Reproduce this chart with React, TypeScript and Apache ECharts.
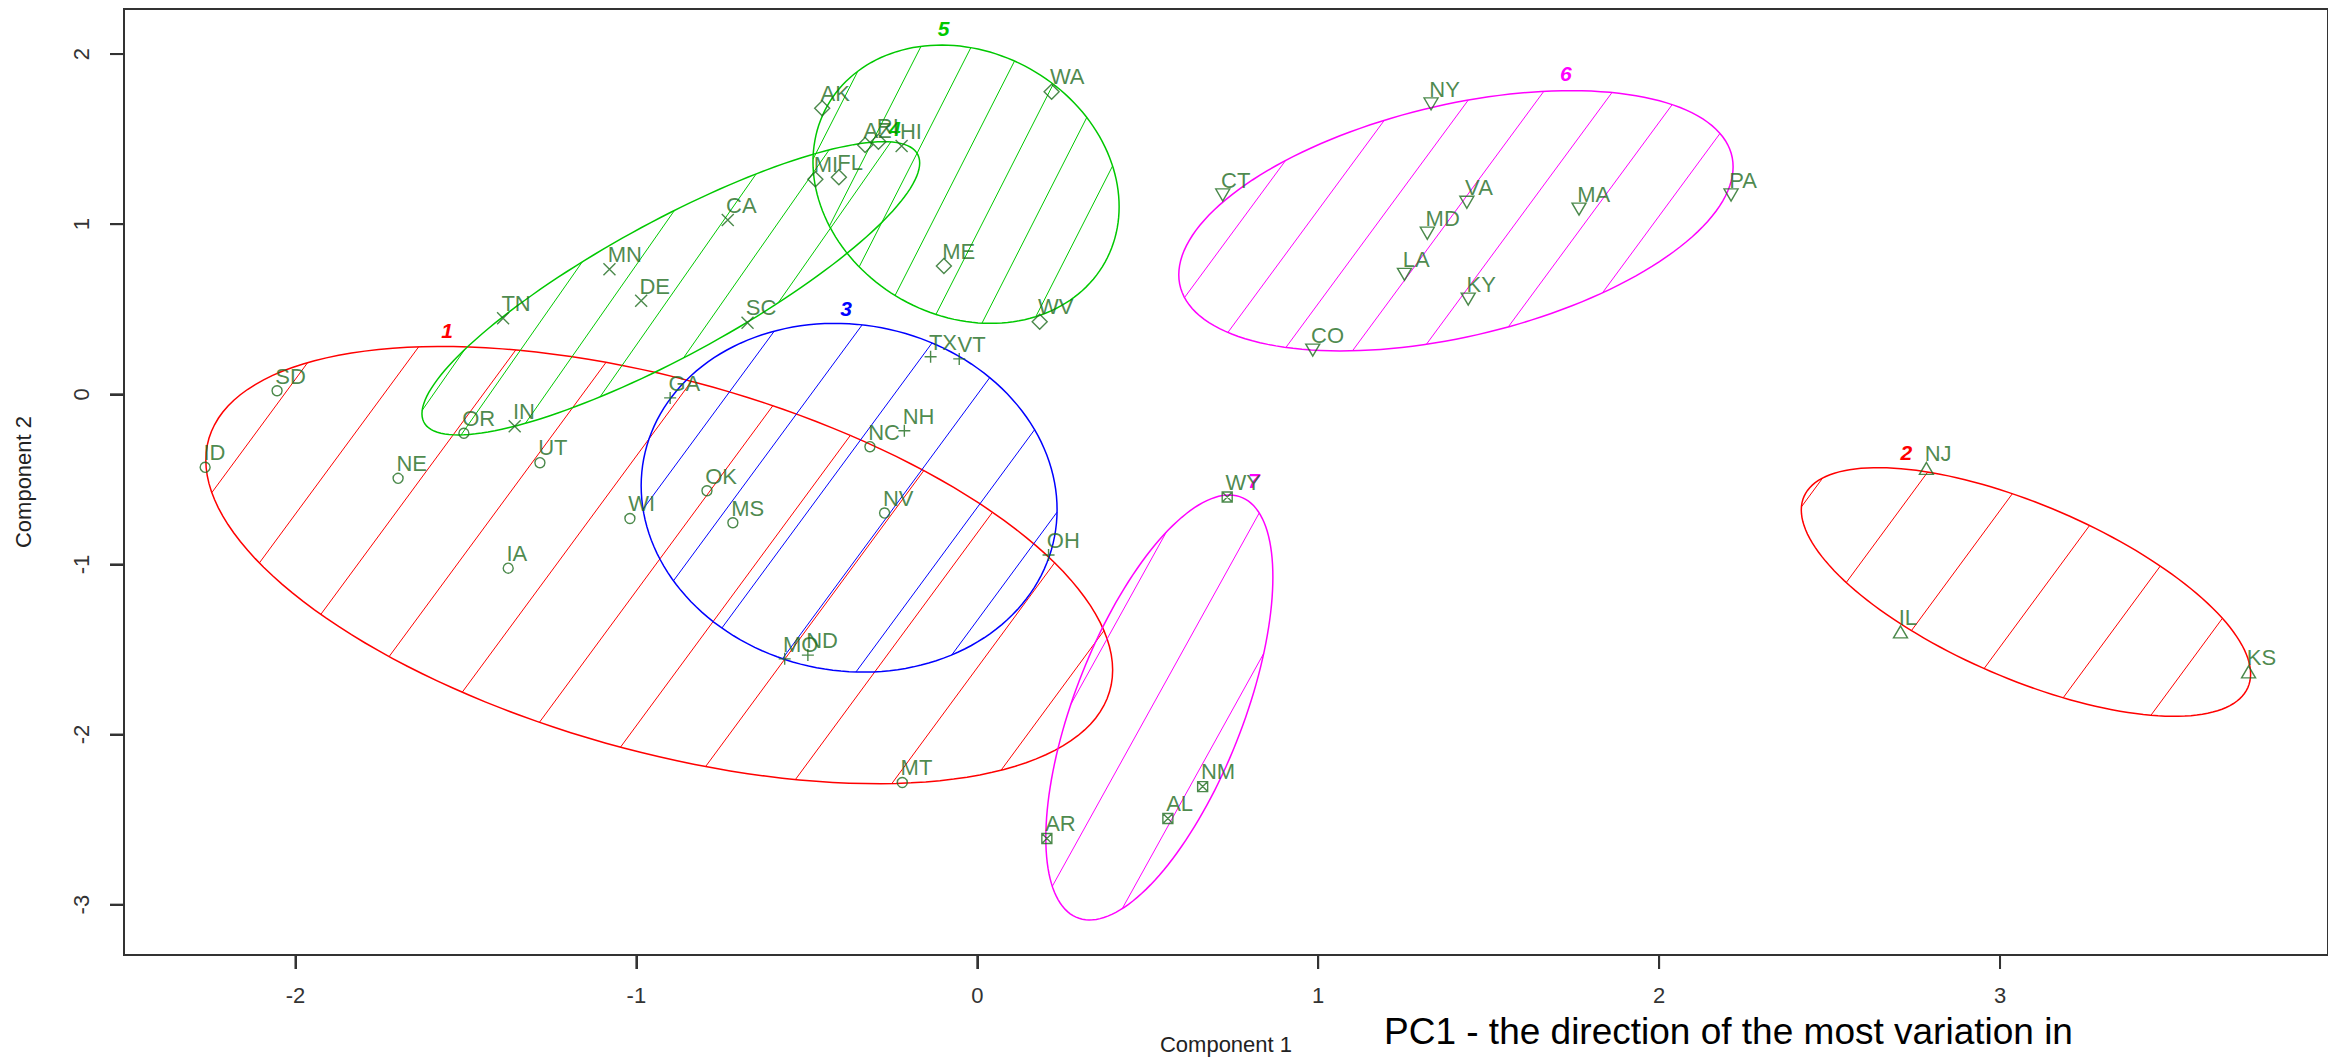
import React, { useEffect, useRef } from 'react';
import * as echarts from 'echarts';

// ---------- axis ticks ----------
const xTicks = [-2, -1, 0, 1, 2, 3];
const yTicks = [-3, -2, -1, 0, 1, 2];
const xRange = [-2.503, 3.962];
const yRange = [-3.296, 2.265];

// ---------- points (Component 1, Component 2) per cluster ----------
const c1States = ['SD', 'ID', 'OR', 'NE', 'UT', 'WI', 'OK', 'MS', 'IA', 'NC', 'NV', 'MT'];
const c1X = [-2.054, -2.265, -1.506, -1.699, -1.283, -1.019, -0.793, -0.717, -1.376, -0.315, -0.272, -0.22];
const c1Y = [0.021, -0.429, -0.229, -0.494, -0.402, -0.73, -0.567, -0.755, -1.022, -0.308, -0.698, -2.282];

const c2States = ['NJ', 'IL', 'KS'];
const c2X = [2.784, 2.708, 3.729];
const c2Y = [-0.436, -1.397, -1.632];

const c3States = ['GA', 'TX', 'VT', 'NH', 'MO', 'OH', 'ND'];
const c3X = [-0.901, -0.137, -0.053, -0.214, -0.565, 0.209, -0.497];
const c3Y = [-0.021, 0.221, 0.208, -0.214, -1.555, -0.945, -1.533];

const c4States = ['TN', 'MN', 'DE', 'CA', 'SC', 'IN', 'HI'];
const c4X = [-1.391, -1.079, -0.986, -0.732, -0.674, -1.357, -0.222];
const c4Y = [0.447, 0.735, 0.55, 1.025, 0.421, -0.188, 1.46];

const c5States = ['AK', 'WA', 'AZ', 'RI', 'MI', 'FL', 'ME', 'WV'];
const c5X = [-0.455, 0.218, -0.329, -0.29, -0.475, -0.406, -0.098, 0.183];
const c5Y = [1.681, 1.779, 1.465, 1.485, 1.264, 1.276, 0.754, 0.427];

const c6States = ['NY', 'CT', 'VA', 'MA', 'PA', 'MD', 'LA', 'KY', 'CO'];
const c6X = [1.331, 0.72, 1.436, 1.765, 2.211, 1.32, 1.253, 1.44, 0.984];
const c6Y = [1.707, 1.172, 1.129, 1.089, 1.172, 0.947, 0.705, 0.56, 0.26];

const c7States = ['WY', 'NM', 'AL', 'AR'];
const c7X = [0.733, 0.661, 0.559, 0.204];
const c7Y = [-0.604, -2.306, -2.494, -2.611];

// ---------- cluster ellipses (data units) ----------
// centre, half extent in x, half extent in y, y-offset of the right-most point
const ellipseCx = [-0.933, 3.076, -0.376, -0.899, -0.033, 1.404, 0.534];
const ellipseCy = [-1.004, -1.162, -0.608, 0.623, 1.235, 1.02, -1.841];
const ellipseHalfW = [1.33, 0.659, 0.61, 0.73, 0.449, 0.813, 0.333];
const ellipseHalfH = [1.285, 0.731, 1.025, 0.862, 0.818, 0.765, 1.249];
const ellipseRightDy = [-0.617, -0.482, -0.07, 0.737, -0.132, 0.317, 0.767];

// cluster number labels (data units)
const clusterLabelX = [-1.555, 2.725, -0.385, -0.242, -0.099, 1.726, 0.811];
const clusterLabelY = [0.378, -0.343, 0.507, 1.564, 2.152, 1.883, -0.504];

// hatch line anchors (data units)
const hatchAnchorX = [-1.717, 2.728, -0.354, -1.109, -0.229, 0.744, 0.212];
const hatchAnchorY = [-1.519, -1.422, -1.627, -0.022, 0.629, 0.388, -2.921];

// ---------- styles ----------
const clusterColors = ['#ff0000', '#ff0000', '#0000ff', '#00c800', '#00c800', '#ff00ff', '#ff00ff'];
const hatchAngleDeg = [53.6, 53.6, 53.6, 55, 63, 53.6, 61];
const hatchSpacingPx = [80, 81, 67, 46, 45, 55.6, 72];
const pointColor = '#1e6b1e';
const axisColor = '#333333';
const TICK_LEN = 14;
const FONT = '"Liberation Sans", Arial, Helvetica, sans-serif';

const symPlus = 'path://M0,6 L12,6 M6,0 L6,12';
const symCross = 'path://M0,0 L12,12 M12,0 L0,12';
const symBoxX = 'path://M0,0 L10,0 L10,10 L0,10 Z M0,0 L10,10 M10,0 L0,10';
const symInvTri = 'path://M0,0 L14,0 L7,12 Z';
const symTri = 'path://M7,0 L14,12 L0,12 Z';
const symDiamond = 'path://M7.5,0 L15,7.5 L7.5,15 L0,7.5 Z';

export default function App() {
  const ref = useRef<HTMLDivElement>(null);

  useEffect(() => {
    if (!ref.current) return;
    const chart = echarts.init(ref.current, undefined, { renderer: 'svg' });

    const pointSeries = (
      name: string,
      states: string[],
      xs: number[],
      ys: number[],
      symbol: string,
      size: number[]
    ) => ({
      name,
      type: 'scatter',
      symbol,
      symbolSize: size,
      z: 5,
      itemStyle: { color: 'rgba(0,0,0,0)', borderColor: pointColor, borderWidth: 1.4 },
      label: {
        show: true,
        formatter: (p: any) => p.data[2],
        position: [size[0] / 2 - 1, size[1] / 2 - 3],
        align: 'left',
        verticalAlign: 'bottom',
        color: pointColor,
        fontFamily: FONT,
        fontSize: 22,
      },
      emphasis: { disabled: true },
      data: states.map((s, i) => [xs[i], ys[i], s]),
    });

    const ellipseSeries = {
      type: 'custom',
      z: 2,
      clip: true,
      data: ellipseCx.map((_, i) => [i]),
      renderItem: (_params: any, api: any) => {
        const k = api.value(0) as number;
        const cx = ellipseCx[k];
        const cy = ellipseCy[k];
        const W = ellipseHalfW[k];
        const H = ellipseHalfH[k];
        const r = ellipseRightDy[k];
        const s = Math.sqrt(Math.max(H * H - r * r, 0));
        const N = 160;
        const pts: number[][] = [];
        for (let j = 0; j < N; j++) {
          const t = (2 * Math.PI * j) / N;
          pts.push(api.coord([cx + W * Math.cos(t), cy + r * Math.cos(t) + s * Math.sin(t)]));
        }
        const color = clusterColors[k];
        const a = (hatchAngleDeg[k] * Math.PI) / 180;
        const nx = Math.sin(a);
        const ny = Math.cos(a);
        const anc = api.coord([hatchAnchorX[k], hatchAnchorY[k]]);
        const c0 = nx * anc[0] + ny * anc[1];
        let minC = Infinity;
        let maxC = -Infinity;
        for (const p of pts) {
          const c = nx * p[0] + ny * p[1];
          if (c < minC) minC = c;
          if (c > maxC) maxC = c;
        }
        const sp = hatchSpacingPx[k];
        const children: any[] = [];
        for (let m = Math.ceil((minC - c0) / sp); m <= Math.floor((maxC - c0) / sp); m++) {
          const c = c0 + m * sp;
          const hits: number[][] = [];
          for (let j = 0; j < N; j++) {
            const p = pts[j];
            const q = pts[(j + 1) % N];
            const fp = nx * p[0] + ny * p[1] - c;
            const fq = nx * q[0] + ny * q[1] - c;
            if ((fp <= 0 && fq > 0) || (fp > 0 && fq <= 0)) {
              const tt = fp / (fp - fq);
              hits.push([p[0] + (q[0] - p[0]) * tt, p[1] + (q[1] - p[1]) * tt]);
            }
          }
          if (hits.length >= 2) {
            children.push({
              type: 'line',
              shape: { x1: hits[0][0], y1: hits[0][1], x2: hits[1][0], y2: hits[1][1] },
              style: { stroke: color, lineWidth: 1 },
            });
          }
        }
        children.push({
          type: 'polygon',
          shape: { points: pts },
          style: { fill: 'none', stroke: color, lineWidth: 1.5 },
        });
        const lp = api.coord([clusterLabelX[k], clusterLabelY[k]]);
        children.push({
          type: 'text',
          x: lp[0],
          y: lp[1],
          z2: 10,
          style: {
            text: String(k + 1),
            fill: color,
            font: `italic bold 21px ${FONT}`,
            align: 'center',
            verticalAlign: 'middle',
            textAlign: 'center',
            textVerticalAlign: 'middle',
          },
        });
        return { type: 'group', children };
      },
    };

    const titleGraphic = {
      type: 'text',
      x: 1384,
      y: 1031,
      z: 100,
      style: {
        text: 'PC1 - the direction of the most variation in',
        fill: '#000000',
        font: `37px ${FONT}`,
        verticalAlign: 'middle',
        textVerticalAlign: 'middle',
      },
    };

    chart.setOption({
      animation: false,
      backgroundColor: '#ffffff',
      grid: {
        show: true,
        left: 124,
        top: 9,
        right: -12,
        bottom: 106,
        borderColor: axisColor,
        borderWidth: 2,
        backgroundColor: 'rgba(0,0,0,0)',
      },
      xAxis: {
        type: 'value',
        position: 'bottom',
        min: xRange[0],
        max: xRange[1],
        name: 'Component 1',
        nameLocation: 'middle',
        nameGap: 78,
        nameTextStyle: { fontFamily: FONT, fontSize: 22, color: '#222' },
        axisLine: { show: true, onZero: false, lineStyle: { color: axisColor, width: 2 } },
        splitLine: { show: false },
        axisTick: {
          show: true,
          inside: false,
          length: TICK_LEN,
          customValues: xTicks,
          lineStyle: { color: axisColor, width: 2 },
        },
        axisLabel: {
          show: true,
          customValues: xTicks,
          margin: 29,
          fontFamily: FONT,
          fontSize: 22,
          color: '#333',
        },
      },
      yAxis: {
        type: 'value',
        position: 'left',
        min: yRange[0],
        max: yRange[1],
        name: 'Component 2',
        nameLocation: 'middle',
        nameRotate: 90,
        nameGap: 90,
        nameTextStyle: { fontFamily: FONT, fontSize: 22, color: '#222' },
        axisLine: { show: true, onZero: false, lineStyle: { color: axisColor, width: 2 } },
        splitLine: { show: false },
        axisTick: {
          show: true,
          inside: false,
          length: TICK_LEN,
          customValues: yTicks,
          lineStyle: { color: axisColor, width: 2 },
        },
        axisLabel: {
          show: true,
          customValues: yTicks,
          rotate: 90,
          margin: 32,
          fontFamily: FONT,
          fontSize: 22,
          color: '#333',
        },
      },
      graphic: [titleGraphic],
      series: [
        ellipseSeries,
        pointSeries('1', c1States, c1X, c1Y, 'circle', [10, 10]),
        pointSeries('2', c2States, c2X, c2Y, symTri, [14, 12]),
        pointSeries('3', c3States, c3X, c3Y, symPlus, [12, 12]),
        pointSeries('4', c4States, c4X, c4Y, symCross, [12, 12]),
        pointSeries('5', c5States, c5X, c5Y, symDiamond, [15, 15]),
        pointSeries('6', c6States, c6X, c6Y, symInvTri, [14, 12]),
        pointSeries('7', c7States, c7X, c7Y, symBoxX, [10, 10]),
      ],
    });

    // R-style outward tick marks, placed through the chart's own axis scales
    const tickGraphics: any[] = [];
    xTicks.forEach((v) => {
      const p = chart.convertToPixel({ gridIndex: 0 }, [v, yRange[0]]) as number[];
      if (p && isFinite(p[0]) && isFinite(p[1])) {
        tickGraphics.push({
          type: 'line',
          z: 60,
          silent: true,
          shape: { x1: p[0], y1: p[1], x2: p[0], y2: p[1] + TICK_LEN },
          style: { stroke: axisColor, lineWidth: 2 },
        });
      }
    });
    yTicks.forEach((v) => {
      const p = chart.convertToPixel({ gridIndex: 0 }, [xRange[0], v]) as number[];
      if (p && isFinite(p[0]) && isFinite(p[1])) {
        tickGraphics.push({
          type: 'line',
          z: 60,
          silent: true,
          shape: { x1: p[0] - TICK_LEN, y1: p[1], x2: p[0], y2: p[1] },
          style: { stroke: axisColor, lineWidth: 2 },
        });
      }
    });
    chart.setOption({ graphic: [titleGraphic, ...tickGraphics] });

    return () => chart.dispose();
  }, []);

  return (
    <div
      ref={ref}
      style={{ position: 'fixed', left: 0, top: 0, width: 2328, height: 1061, background: '#fff' }}
    />
  );
}
